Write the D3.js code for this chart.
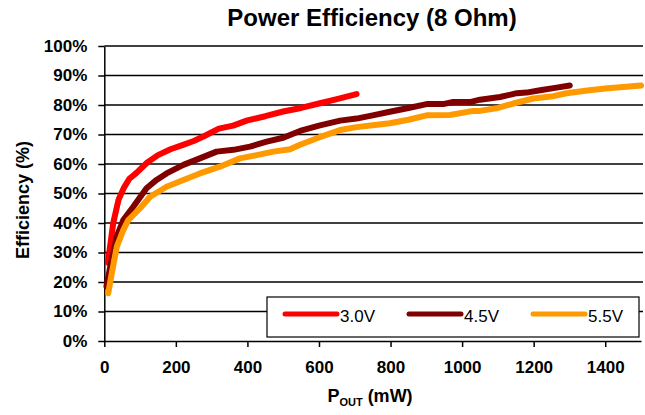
<!DOCTYPE html>
<html>
<head>
<meta charset="utf-8">
<script src="https://cdn.jsdelivr.net/npm/d3@7/dist/d3.min.js"></script>
<style>
  html, body { margin: 0; padding: 0; background: #fff; }
  svg { display: block; font-family: "Liberation Sans", Arial, sans-serif; }
</style>
</head>
<body>
<svg id="chart" width="645" height="415"></svg>
<script>
// Output power (mW) and efficiency (%) for each supply voltage
const power30 = [10, 25, 40, 55, 70, 90, 120, 150, 185, 220, 250, 280, 320, 360, 400, 450, 500, 550, 600, 650, 705];
const eff30   = [26.5, 40, 48, 52, 55, 57, 60.5, 63, 65, 66.5, 67.8, 69.5, 72, 73, 74.8, 76.2, 77.8, 79, 80.5, 82, 83.7];

const power45 = [6, 18, 35, 53, 81, 118, 146, 174, 221, 267, 314, 361, 407, 454, 500, 547, 600, 659, 705, 750, 798, 850, 901, 947, 975, 1022, 1050, 1106, 1153, 1180, 1218, 1264, 1301];
const eff45   = [18.5, 26, 35.5, 41, 45.5, 51.8, 54.6, 56.8, 59.7, 61.9, 64.2, 64.8, 65.9, 67.6, 68.9, 71.2, 73, 74.7, 75.4, 76.5, 77.7, 79, 80.3, 80.3, 81, 81, 81.8, 82.7, 84, 84.2, 85, 85.9, 86.6];

const power55 = [11, 21, 35, 53, 67, 100, 128, 174, 221, 267, 323, 379, 426, 472, 519, 547, 600, 659, 705, 750, 798, 850, 901, 966, 1031, 1050, 1100, 1143, 1199, 1255, 1292, 1350, 1400, 1450, 1500];
const eff55   = [16.2, 23, 32, 37.6, 41, 45, 48.9, 52.3, 54.6, 56.8, 59.1, 61.9, 63, 64.2, 65, 66.5, 69, 71.5, 72.5, 73.1, 73.8, 75, 76.5, 76.6, 78, 78, 79, 80.5, 82.2, 83, 84, 84.9, 85.6, 86.1, 86.6];

const seriesNames = ["3.0V", "4.5V", "5.5V"];
const seriesColors = ["#ff0000", "#800000", "#ff9900"];

const xTicks = [0, 200, 400, 600, 800, 1000, 1200, 1400];
const yTicks = [0, 10, 20, 30, 40, 50, 60, 70, 80, 90, 100];

const series = [
  { name: seriesNames[0], color: seriesColors[0], values: power30.map((p, i) => [p, eff30[i]]) },
  { name: seriesNames[1], color: seriesColors[1], values: power45.map((p, i) => [p, eff45[i]]) },
  { name: seriesNames[2], color: seriesColors[2], values: power55.map((p, i) => [p, eff55[i]]) }
];

const svg = d3.select("#chart");
const plotLeft = 104.3, plotRight = 641, plotTop = 46, plotBottom = 341;

const x = d3.scaleLinear().domain([0, 1500]).range([plotLeft, plotRight]);
const y = d3.scaleLinear().domain([0, 100]).range([plotBottom, plotTop]);

// Title
svg.append("text")
  .attr("x", 372).attr("y", 26)
  .attr("text-anchor", "middle")
  .attr("font-size", 24).attr("font-weight", "bold")
  .text("Power Efficiency (8 Ohm)");

// Horizontal gridlines
svg.append("g").selectAll("line")
  .data(yTicks.filter(d => d > 0))
  .join("line")
  .attr("x1", plotLeft).attr("x2", 643)
  .attr("y1", d => y(d)).attr("y2", d => y(d))
  .attr("stroke", "#000").attr("stroke-width", 1.5);

// Axes
const yAxis = svg.append("g")
  .attr("transform", `translate(${plotLeft},0)`)
  .call(d3.axisLeft(y).tickValues(yTicks).tickSize(6).tickSizeOuter(0).tickPadding(11)
    .tickFormat(d => d + "%"));

const xAxis = svg.append("g")
  .attr("transform", `translate(0,${plotBottom})`)
  .call(d3.axisBottom(x).tickValues(xTicks).tickSize(6).tickSizeOuter(0).tickPadding(14)
    .tickFormat(d3.format("d")));

[xAxis, yAxis].forEach(g => {
  g.select(".domain").attr("stroke", "#000").attr("stroke-width", 1.5);
  g.selectAll(".tick line").attr("stroke", "#000").attr("stroke-width", 1.5);
  g.selectAll(".tick text")
    .attr("fill", "#000")
    .attr("font-size", 17).attr("font-weight", "bold")
    .attr("font-family", "'Liberation Sans', Arial, sans-serif");
});

// Axis titles
svg.append("text")
  .attr("transform", "translate(28.5,200) rotate(-90)")
  .attr("text-anchor", "middle")
  .attr("font-size", 18).attr("font-weight", "bold")
  .text("Efficiency (%)");

const xTitle = svg.append("text")
  .attr("x", 370).attr("y", 402)
  .attr("text-anchor", "middle")
  .attr("font-size", 18).attr("font-weight", "bold");
xTitle.append("tspan").text("P");
xTitle.append("tspan").attr("font-size", 11).attr("dy", 4).text("OUT");
xTitle.append("tspan").attr("dy", -4).text(" (mW)");

// Curves
const line = d3.line().x(d => x(d[0])).y(d => y(d[1]));

svg.append("g").selectAll("path")
  .data(series)
  .join("path")
  .attr("d", d => line(d.values))
  .attr("fill", "none")
  .attr("stroke", d => d.color)
  .attr("stroke-width", 6)
  .attr("stroke-linejoin", "round")
  .attr("stroke-linecap", "round");

// Legend
const legend = svg.append("g");
legend.append("rect")
  .attr("x", 267).attr("y", 297).attr("width", 372).attr("height", 40)
  .attr("fill", "#fff").attr("stroke", "#000").attr("stroke-width", 1.2);

const item = legend.selectAll("g.item")
  .data(series)
  .join("g")
  .attr("class", "item")
  .attr("transform", (d, i) => `translate(${285 + i * 124},0)`);

item.append("line")
  .attr("x1", 0).attr("x2", 52).attr("y1", 314).attr("y2", 314)
  .attr("stroke", d => d.color).attr("stroke-width", 5)
  .attr("stroke-linecap", "round");

item.append("text")
  .attr("x", 55).attr("y", 322)
  .attr("font-size", 17)
  .text(d => d.name);
</script>
</body>
</html>
